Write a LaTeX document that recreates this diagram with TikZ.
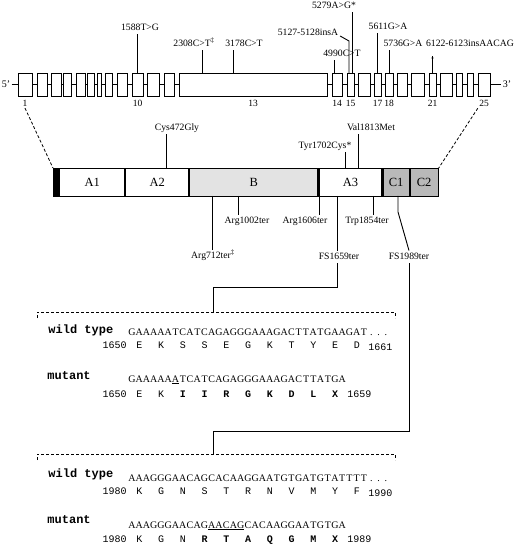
\documentclass[tikz,border=0pt]{standalone}
\usepackage{fontspec}
\setmainfont{Liberation Serif}
\setmonofont{Liberation Mono}
% letters on a fixed pitch, one box per letter
\makeatletter
\newcommand\gridtext[2]{\def\grid@w{#1}\grid@loop#2\@nil}
\def\grid@loop#1{\ifx\@nil#1\else\makebox[\grid@w]{#1}\expandafter\grid@loop\fi}
\makeatother
\newcommand\dna[1]{\gridtext{7.25pt}{#1}}
\newcommand\prot[1]{\gridtext{21.75pt}{#1}}
\tikzset{
  mut/.style={font=\fontsize{9.7}{11}\selectfont, inner sep=1.5pt, text height=7pt, text depth=2pt},
  exnum/.style={font=\fontsize{9.5}{10}\selectfont, inner sep=1pt, anchor=north},
  exon/.style={draw, fill=white, minimum height=23pt, inner sep=0pt},
  dom/.style={draw, line width=1.1pt, minimum height=28pt, inner sep=0pt, font=\fontsize{12.5}{14}\selectfont},
  seq/.style={font=\fontsize{10}{12}\selectfont, inner sep=0pt, anchor=base west},
  res/.style={font=\ttfamily\fontsize{10}{12}\selectfont, inner sep=0pt, anchor=base west},
  num/.style={font=\ttfamily\fontsize{10}{12}\selectfont, inner sep=0pt},
  tag/.style={font=\ttfamily\bfseries\fontsize{12}{14}\selectfont, inner sep=0pt, anchor=base west},
  zoomline/.style={line width=0.8pt, dash pattern=on 3pt off 2pt}
}
\begin{document}
\begin{tikzpicture}[x=1pt, y=-1pt, line width=0.9pt]
  \useasboundingbox (0,0) rectangle (520,545);

  % gene: exons on a backbone
  \node[font=\fontsize{10}{12}\selectfont, inner sep=1pt] (five) at (6,84.5) {5'};
  \node[font=\fontsize{10}{12}\selectfont, inner sep=1pt] (three) at (507,84.5) {3'};
  \draw (five.east) -- (three.west);
  \foreach \n/\a/\b in {1/18/32, 2/37/47, 3/51/61, 4/63/71, 5/76/85, 6/87/94, 7/97/101,
      8/105/112, 9/117/127, 10/132/143, 11/147/159, 12/164/174, 13/179/327,
      14/332/342, 15/347/354, 16/358/370, 17/374/381, 18/385/393, 19/397/407,
      20/411/424, 21/429/436, 22/440/452, 23/456/462, 24/467/473, 25/478/490} {
    \pgfmathsetmacro\w{\b-\a}
    \node[exon, minimum width=\w pt] (e\n) at ({(\a+\b)/2},84.5) {};
  }
  \foreach \n in {1,10,13,14,15,17,18,21,25}
    \node[exnum] (n\n) at ([yshift=-2.5pt]e\n.south) {\n};

  % nucleotide changes
  \node[mut] (m1588) at (140,28) {1588T>G};
  \node[mut] (m2308) at (194,44) {2308C>T\textsuperscript{‡}};
  \node[mut] (m3178) at (244,44) {3178C>T};
  \node[mut] (m4990) at (342,54) {4990C>T};
  \node[mut] (m5127) at (308,33) {5127-5128insA};
  \node[mut] (m5279) at (334,6) {5279A>G*};
  \node[mut] (m5611) at (388,27) {5611G>A};
  \node[mut] (m5736) at (403,44) {5736G>A};
  \node[mut] (m6122) at (470,44) {6122-6123insAACAG};
  \node[circle, fill, inner sep=0.8pt] (d6122) at (432.5,58) {};

  \coordinate (f1588) at (e10.north);
  \coordinate (f2308) at (202,73);
  \coordinate (f3178) at (233,73);
  \coordinate (f4990) at (334,73);
  \coordinate (f5127) at (349,73);
  \coordinate (k5127) at (349,41);
  \coordinate (f5279) at (352,73);
  \coordinate (f5611) at (e17.north);
  \coordinate (f5736) at (e18.north);
  \coordinate (f6122) at (e21.north);
  \foreach \m in {1588,2308,3178,4990,5279,5611,5736}
    \draw (f\m) -- (f\m |- m\m.south);
  \draw ([yshift=-3pt]m5127.east) -- (k5127) -- (f5127);
  \draw (f6122) -- ([yshift=4pt]d6122.south);

  % protein domains
  \node[dom, fill=black, minimum width=5pt, anchor=north west] (Nt) at (53,168) {};
  \node[dom, minimum width=65pt, anchor=west] (A1) at (Nt.east) {A1};
  \node[dom, minimum width=63pt, anchor=west] (A2) at (A1.east) {A2};
  \node[dom, fill=gray!22, minimum width=128pt, anchor=west] (B) at (A2.east) {B};
  \node[dom, minimum width=63pt, anchor=west] (A3) at (B.east) {A3};
  \node[dom, fill=gray!55, minimum width=26pt, anchor=west] (C1) at (A3.east) {C1};
  \node[dom, fill=gray!55, minimum width=28pt, anchor=west] (C2) at (C1.east) {C2};

  \draw[zoomline] (n1.south) -- (Nt.north west);
  \draw[zoomline] (n25.south west) -- (C2.north east);

  % amino acid changes
  \node[mut] (mCys) at (177,128) {Cys472Gly};
  \node[mut] (mVal) at (371,128) {Val1813Met};
  \node[mut] (mTyr) at (325,146) {Tyr1702Cys*};
  \node[mut] (mArg712) at (213,256) {Arg712ter\textsuperscript{‡}};
  \node[mut] (mArg1002) at (247,221) {Arg1002ter};
  \node[mut] (mArg1606) at (305,221) {Arg1606ter};
  \node[mut] (mTrp) at (367,221) {Trp1854ter};
  \node[mut] (mFS1659) at (339,257) {FS1659ter};
  \node[mut] (mFS1989) at (409,257) {FS1989ter};

  \coordinate (fCys) at (166,168);
  \coordinate (fVal) at (358,168);
  \coordinate (fTyr) at (345,168);
  \coordinate (fArg712) at (212,196);
  \coordinate (fArg1002) at (238,196);
  \coordinate (fArg1606) at (319,196);
  \coordinate (fTrp) at (373,196);
  \coordinate (fFS1659) at (337,196);
  \coordinate (fFS1989) at (398,196);
  \coordinate (kFS1989) at (398,212);
  \foreach \m in {Cys,Val,Tyr}
    \draw (f\m) -- (f\m |- m\m.south);
  \foreach \m in {Arg712,Arg1002,Arg1606,Trp,FS1659}
    \draw (f\m) -- (f\m |- m\m.north);
  \draw (fFS1989) -- (kFS1989) -- (mFS1989.north);

  % frameshift 1659
  \coordinate (b1top) at (213,312);
  \draw[zoomline] (37,318) -- (37,312) -- (395,312) -- (395,318);
  \draw (mFS1659.south -| fFS1659) -- ++(0,24) -| (b1top);
  \node[tag] (wt1) at (48,333) {wild type};
  \node[seq] (dna1w) at (128,335) {\dna{GAAAAATCATCAGAGGGAAAGACTTATGAAGAT...}};
  \node[num, anchor=base east] (s1w) at (127,348) {1650};
  \node[res] (aa1w) at (128,348) {\prot{EKSSEGKTYED}};
  \node[num, anchor=base west] (e1w) at (368,350) {1661};
  \node[tag] (mt1) at (47,379) {mutant};
  \node[seq] (dna1m) at (128,382) {\dna{GAAAAA}\underline{\dna{A}}\dna{TCATCAGAGGGAAAGACTTATGA}};
  \node[num, anchor=base east] (s1m) at (127,397) {1650};
  \node[res] (aa1m) at (128,397) {\prot{EK}\bfseries\prot{IIRGKDLX}};
  \node[num, anchor=base west] (e1m) at (347,397) {1659};

  % frameshift 1989
  \coordinate (b2top) at (213,454);
  \draw[zoomline] (37,460) -- (37,454) -- (395,454) -- (395,460);
  \draw (mFS1989.south) -- ++(0,168) -| (b2top);
  \node[tag] (wt2) at (48,477) {wild type};
  \node[seq] (dna2w) at (128,481) {\dna{AAAGGGAACAGCACAAGGAATGTGATGTATTTT...}};
  \node[num, anchor=base east] (s2w) at (127,494) {1980};
  \node[res] (aa2w) at (128,494) {\prot{KGNSTRNVMYF}};
  \node[num, anchor=base west] (e2w) at (368,496) {1990};
  \node[tag] (mt2) at (47,523) {mutant};
  \node[seq] (dna2m) at (128,528) {\dna{AAAGGGAACAG}\underline{\dna{AACAG}}\dna{CACAAGGAATGTGA}};
  \node[num, anchor=base east] (s2m) at (127,542) {1980};
  \node[res] (aa2m) at (128,542) {\prot{KGN}\bfseries\prot{RTAQGMX}};
  \node[num, anchor=base west] (e2m) at (347,542) {1989};
\end{tikzpicture}
\end{document}
